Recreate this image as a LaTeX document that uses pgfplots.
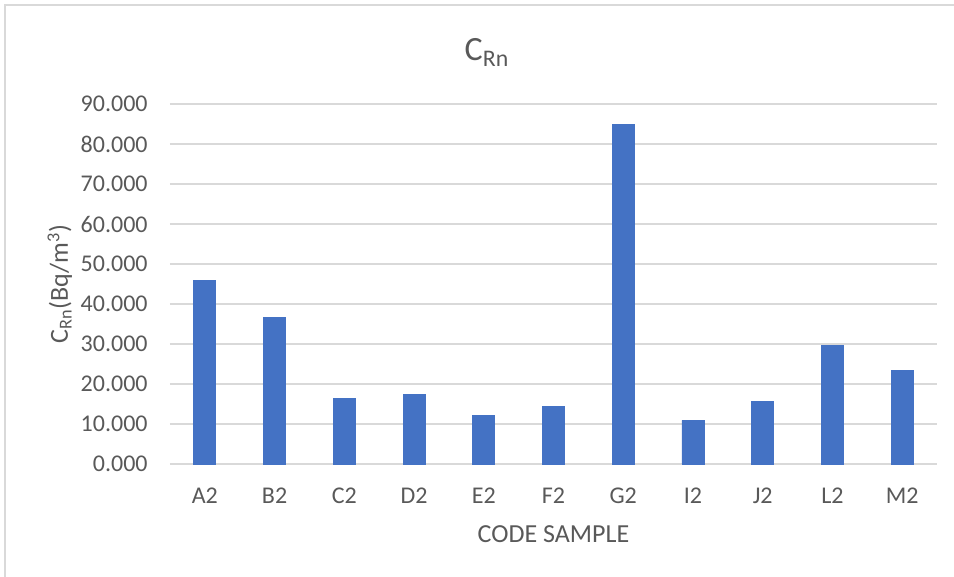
\documentclass[border=0pt]{standalone}
\usepackage{fontspec}
\setmainfont{Carlito}
\usepackage{pgfplots}
\pgfplotsset{compat=1.18}
\definecolor{barblue}{HTML}{4472C4}
\definecolor{gridgray}{HTML}{D9D9D9}
\definecolor{txtgray}{HTML}{595959}

\begin{document}
\begin{tikzpicture}
% page area: 954 x 577 px at 0.5bp per px, plot area corner at px (170,464)
\path[use as bounding box] (-85bp,-56.5bp) rectangle (392bp,232bp);
\draw[gridgray, line width=1bp] (-82.5bp,-56.5bp) -- (-82.5bp,229.5bp) -- (392bp,229.5bp);
\begin{axis}[
	at={(0,0)}, anchor=south west,
	scale only axis,
	width=383.5bp, height=180bp,
	ybar, bar width=11bp,
	xmin=-0.5, xmax=10.5,
	ymin=0, ymax=90,
	xtick=data,
	xticklabels={A2,B2,C2,D2,E2,F2,G2,I2,J2,L2,M2},
	ytick={0,10,...,90},
	axis line style={draw=none},
	major tick length=0pt,
	ymajorgrids,
	grid style={gridgray, line width=1bp},
	tick label style={font=\fontsize{12bp}{14bp}\selectfont, text=txtgray},
	xticklabel style={anchor=base, inner sep=0pt, yshift=-19.5bp},
	yticklabel style={anchor=east, inner sep=0pt, xshift=-11bp},
	/pgf/number format/.cd, fixed, fixed zerofill, precision=3, assume math mode=true,
	/pgfplots/.cd,
	xlabel={CODE SAMPLE},
	xlabel style={at={(axis description cs:0.5,-0.2194)}, anchor=base, font=\fontsize{13bp}{15bp}\selectfont, text=txtgray},
	ylabel={C\textsubscript{Rn}(Bq/m\textsuperscript{3})},
	ylabel style={at={(axis description cs:-0.133,0.5)}, anchor=base, rotate=0, font=\fontsize{13bp}{15bp}\selectfont, text=txtgray},
]
\addplot[fill=barblue, draw=barblue] coordinates {
	(0,46.0) (1,36.6) (2,16.5) (3,17.3) (4,12.2) (5,14.5)
	(6,84.9) (7,10.9) (8,15.6) (9,29.6) (10,23.4)
};
\end{axis}
\node[anchor=base, text=txtgray, font=\fontsize{17bp}{20bp}\selectfont] at (158.5bp,201.5bp) {C\textsubscript{Rn}};
\end{tikzpicture}
\end{document}
